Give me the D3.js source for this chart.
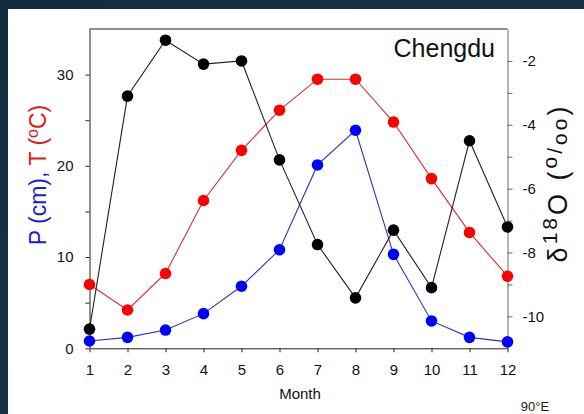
<!DOCTYPE html>
<html>
<head>
<meta charset="utf-8">
<script src="https://cdn.jsdelivr.net/npm/d3@7"></script>
<style>
  html, body { margin: 0; padding: 0; background: #0d1d2c; }
  svg { display: block; font-family: "Liberation Sans", Arial, sans-serif; }
</style>
</head>
<body>
<svg id="chart" width="584" height="414"></svg>
<script>
// Monthly climate at Chengdu: precipitation, temperature and δ18O of rain
const months = [1, 2, 3, 4, 5, 6, 7, 8, 9, 10, 11, 12];
const precipCm = [0.8, 1.2, 2.0, 3.8, 6.8, 10.8, 20.1, 23.9, 10.3, 3.0, 1.2, 0.7];
const tempC = [7.0, 4.2, 8.2, 16.2, 21.7, 26.1, 29.5, 29.5, 24.8, 18.6, 12.7, 7.9];
const d18O = [-10.4, -3.1, -1.35, -2.1, -2.0, -5.1, -7.75, -9.42, -7.3, -9.1, -4.5, -7.2];
const leftTicks = [0, 5, 10, 15, 20, 25, 30];
const rightTicks = [-10, -9, -8, -7, -6, -5, -4, -3, -2];

const svg = d3.select("#chart");

// dark backdrop with a white panel for the figure
const defs = svg.append("defs");
const bg = defs.append("linearGradient").attr("id", "bg")
  .attr("x1", "0").attr("y1", "0").attr("x2", "1").attr("y2", "1");
bg.append("stop").attr("offset", "0").attr("stop-color", "#142a3e");
bg.append("stop").attr("offset", "0.5").attr("stop-color", "#1a3048");
bg.append("stop").attr("offset", "1").attr("stop-color", "#0a1622");
svg.append("rect").attr("width", 584).attr("height", 414).attr("fill", "url(#bg)");
svg.append("rect").attr("x", 8).attr("y", 9).attr("width", 576).attr("height", 405).attr("fill", "#ffffff");

const plotLeft = 89.5, plotRight = 507.5, plotTop = 29, plotBottom = 348.3;
const x = d3.scaleLinear().domain([1, 12]).range([plotLeft, plotRight]);
const yL = d3.scaleLinear().domain([0, 35]).range([plotBottom, plotTop]);
const yR = d3.scaleLinear().domain([-11, -1]).range([plotBottom, plotTop]);

// top frame line
svg.append("line").attr("x1", plotLeft).attr("x2", plotRight).attr("y1", plotTop).attr("y2", plotTop)
  .attr("stroke", "#222").attr("stroke-width", 1);

const styleAxis = (g, color) => {
  g.selectAll("path").attr("stroke", color);
  g.selectAll("line").attr("stroke", color);
  g.selectAll("text").attr("fill", "#111").attr("font-size", 15)
    .attr("font-family", "'Liberation Sans', Arial, sans-serif");
};

const gx = svg.append("g").attr("transform", `translate(0,${plotBottom})`)
  .call(d3.axisBottom(x).tickValues(months).tickFormat(d3.format("d"))
    .tickSize(4).tickSizeOuter(0).tickPadding(12));
styleAxis(gx, "#222");

const gl = svg.append("g").attr("transform", `translate(${plotLeft},0)`)
  .call(d3.axisLeft(yL).tickValues(leftTicks)
    .tickFormat(d => d % 10 === 0 ? d : "")
    .tickSize(4).tickSizeOuter(0).tickPadding(12));
styleAxis(gl, "#222");

const gr = svg.append("g").attr("transform", `translate(${plotRight},0)`)
  .call(d3.axisRight(yR).tickValues(rightTicks)
    .tickFormat(d => d % 2 === 0 ? d : "")
    .tickSize(5).tickSizeOuter(0).tickPadding(10));
styleAxis(gr, "#666");

// series
const series = [
  { values: precipCm, scale: yL, color: "#0000ff", line: "#3030c0" },
  { values: tempC, scale: yL, color: "#ff0000", line: "#d03030" },
  { values: d18O, scale: yR, color: "#000000", line: "#222222" }
];

series.forEach(s => {
  const pts = months.map((m, i) => [m, s.values[i]]);
  const line = d3.line().x(d => x(d[0])).y(d => s.scale(d[1]));
  svg.append("path").datum(pts).attr("d", line)
    .attr("fill", "none").attr("stroke", s.line).attr("stroke-width", 1.1);
  svg.append("g").selectAll("circle").data(pts).join("circle")
    .attr("cx", d => x(d[0])).attr("cy", d => s.scale(d[1]))
    .attr("r", 5.8).attr("fill", s.color);
});

// station name
svg.append("text").attr("x", 495).attr("y", 57).attr("text-anchor", "end")
  .attr("font-size", 25).attr("fill", "#111").text("Chengdu");

// x axis title
svg.append("text").attr("x", 300).attr("y", 399).attr("text-anchor", "middle")
  .attr("font-size", 15).attr("fill", "#111").text("Month");

// left axis title: P in blue, T in red
const lt = svg.append("text").attr("transform", "translate(46,175) rotate(-90)")
  .attr("text-anchor", "middle").attr("font-size", 23);
lt.append("tspan").attr("fill", "#1a1ad8").text("P (cm), ");
lt.append("tspan").attr("fill", "#e01818").text("T (");
lt.append("tspan").attr("fill", "#e01818").attr("font-size", 16).attr("dy", -8).text("o");
lt.append("tspan").attr("fill", "#e01818").attr("dy", 8).text("C)");

// right axis title
const rt = svg.append("text").attr("transform", "translate(567,183) rotate(-90)")
  .attr("text-anchor", "middle").attr("font-size", 27).attr("fill", "#111")
  .attr("letter-spacing", 3);
rt.append("tspan").text("δ");
rt.append("tspan").attr("font-size", 21).attr("dy", -10).text("18");
rt.append("tspan").attr("dy", 10).text("O (");
rt.append("tspan").attr("font-size", 21).attr("dy", -10).text("o");
rt.append("tspan").attr("font-size", 21).attr("dy", 5).text("/");
rt.append("tspan").attr("font-size", 21).attr("dy", 5).text("oo");
rt.append("tspan").text(")");

// map longitude note below the figure
svg.append("text").attr("x", 535).attr("y", 411).attr("text-anchor", "middle")
  .attr("font-size", 13).attr("fill", "#222")
  .attr("font-family", "'Liberation Sans Narrow', 'Liberation Sans', Arial, sans-serif")
  .text("90°E");
</script>
</body>
</html>
